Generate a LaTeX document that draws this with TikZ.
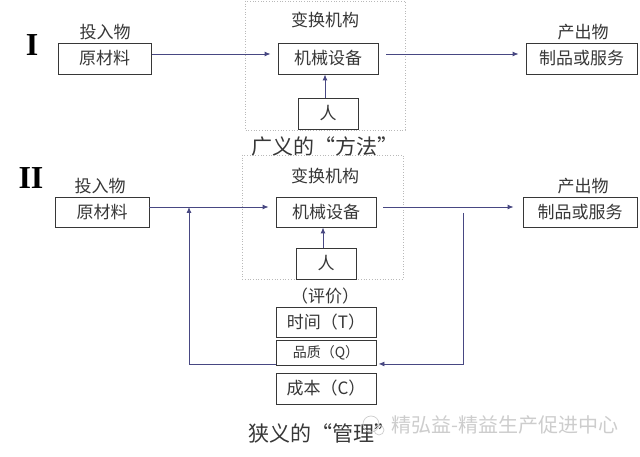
\documentclass[tikz,border=0pt]{standalone}
\usepackage{fontspec}
\newfontfamily\cjk{Noto Sans CJK SC}
\newfontfamily\serifnum{Liberation Serif}
\usetikzlibrary{arrows.meta}
\definecolor{arrowc}{RGB}{72,72,130}
\definecolor{boxc}{RGB}{55,55,55}
\definecolor{textc}{RGB}{55,55,55}
\definecolor{framec}{RGB}{185,185,185}
\definecolor{wmark}{RGB}{205,205,205}
\tikzset{
  box/.style={draw=boxc, line width=0.9pt, inner sep=0pt, minimum height=31pt, text=textc, font=\cjk\fontsize{17}{17}\selectfont},
  lbl/.style={inner sep=0pt, text=textc, font=\cjk\fontsize{17}{17}\selectfont},
  title/.style={inner sep=0pt, text=textc, font=\cjk\fontsize{21}{21}\selectfont},
  numeral/.style={inner sep=0pt, text=black, font=\serifnum\bfseries\fontsize{32}{32}\selectfont},
  frame/.style={draw=framec, line width=0.7pt, dotted},
  flow/.style={draw=arrowc, line width=0.9pt, -{Latex[length=6pt,width=5pt]}},
}
\begin{document}
\begin{tikzpicture}[x=1pt,y=-1pt]
\useasboundingbox[fill=white] (0,0) rectangle (640,457);

% ---------- Section I ----------
\draw[frame] (245,1) rectangle (405,130);
\node[numeral] (n1) at (32,45) {I};
\node[lbl] (inlbl1) at (105,32) {投入物};
\node[box, minimum width=93pt] (in1) at (104.5,58.5) {原材料};
\node[lbl] (tr1) at (325,20) {变换机构};
\node[box, minimum width=100pt] (mach1) at (328,58.5) {机械设备};
\node[box, minimum width=60pt] (ren1) at (328,113.5) {人};
\node[lbl] (outlbl1) at (583,32) {产出物};
\node[box, minimum width=111pt] (out1) at (581.5,58.5) {制品或服务};
\node[title] (t1) at (325,147) {广义的“方法”};

\draw[flow] ([xshift=1pt,yshift=4.5pt]in1.east) -- ([xshift=-7pt,yshift=4.5pt]mach1.west);
\draw[flow] ([xshift=8pt,yshift=4.5pt]mach1.east) -- ([xshift=-7pt,yshift=4.5pt]out1.west);
\draw[flow] ([xshift=-3pt]ren1.north) -- ([xshift=-3pt]mach1.south);

% ---------- Section II ----------
\draw[frame] (242,155) rectangle (403,279);
\node[numeral] (n2) at (31,178) {II};
\node[lbl] (inlbl2) at (100,186) {投入物};
\node[box, minimum width=94pt, minimum height=30pt] (in2) at (102,212) {原材料};
\node[lbl] (tr2) at (325,176) {变换机构};
\node[box, minimum width=100pt, minimum height=30pt] (mach2) at (326,212) {机械设备};
\node[box, minimum width=60pt] (ren2) at (326,263.5) {人};
\node[lbl] (outlbl2) at (583,186) {产出物};
\node[box, minimum width=114pt, minimum height=30pt] (out2) at (580,212) {制品或服务};

\node[lbl] (eval) at (325,296) {（评价）};
\node[box, minimum width=100pt, minimum height=30pt] (time) at (326,322) {时间（T）};
\node[box, minimum width=100pt, minimum height=25pt, font=\cjk\fontsize{14}{14}\selectfont] (qual) at (326,352.5) {品质（Q）};
\node[box, minimum width=100pt] (cost) at (326,388.5) {成本（C）};
\node[title] (t2) at (322,433) {狭义的“管理”};

\draw[flow] ([yshift=5pt]in2.east) -- ([xshift=-7pt,yshift=5pt]mach2.west);
\draw[flow] ([xshift=7pt,yshift=5pt]mach2.east) -- ([xshift=-9pt,yshift=5pt]out2.west);
\draw[flow] ([xshift=-3pt]ren2.north) -- ([xshift=-3pt]mach2.south);

\coordinate (fbR) at (463,213);
\coordinate (fbL) at (189,207);
\draw[flow] (fbR) |- ([xshift=2pt,yshift=1.5pt]qual.south east);
\draw[flow] ([yshift=1.5pt]qual.south west) -| (fbL);

% ---------- watermark ----------
\draw[wmark, line width=0.7pt] (371,424) circle (8pt);
\draw[wmark, line width=0.7pt] (379,430) circle (5pt);
\node[inner sep=0pt, text=wmark, font=\cjk\fontsize{20}{20}\selectfont] (wm) at (505,425) {精弘益-精益生产促进中心};
\end{tikzpicture}
\end{document}
